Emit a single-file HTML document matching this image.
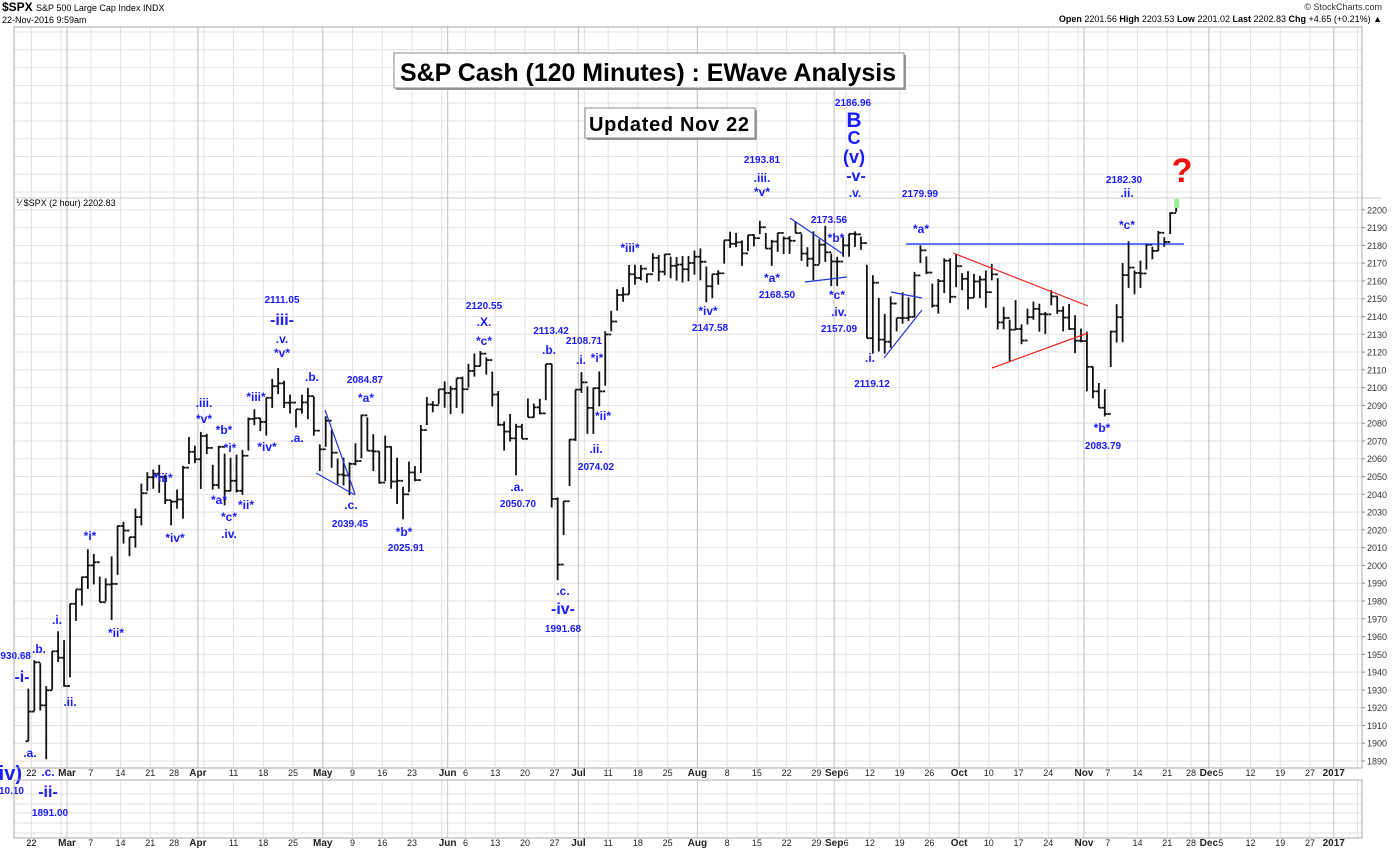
<!DOCTYPE html>
<html><head><meta charset="utf-8">
<style>
html,body{margin:0;padding:0;background:#fff;}
svg{display:block;font-family:"Liberation Sans",Arial,sans-serif;}
</style></head>
<body>
<svg id="chart" width="1400" height="852" viewBox="0 0 1400 852" xmlns="http://www.w3.org/2000/svg">
  <g id="grid"></g>
  <g id="bars"></g>
  <g id="lines"></g>
  <g id="ann"></g>
  <g id="axes"></g>
  <g>
    <text x="2" y="11" font-size="12" font-weight="bold">$SPX <tspan font-size="9" font-weight="normal">S&amp;P 500 Large Cap Index  INDX</tspan></text>
    <text x="2" y="23" font-size="9">22-Nov-2016 9:59am</text>
    <text x="1382" y="10" font-size="9" text-anchor="end" fill="#333">© StockCharts.com</text>
    <text x="1382" y="22" font-size="9" text-anchor="end"><tspan font-weight="bold">Open</tspan> 2201.56  <tspan font-weight="bold">High</tspan> 2203.53  <tspan font-weight="bold">Low</tspan> 2201.02  <tspan font-weight="bold">Last</tspan> 2202.83  <tspan font-weight="bold">Chg</tspan> +4.65 (+0.21%) ▲</text>
  </g>
  <g>
    <rect x="396" y="55" width="510" height="35" fill="#999"/>
    <rect x="394" y="53" width="510" height="35" fill="#fff" stroke="#888"/>
    <text x="400" y="81" font-size="25" font-weight="bold" textLength="496">S&amp;P Cash (120 Minutes) : EWave Analysis</text>
  </g>
  <g>
    <rect x="587" y="110" width="170" height="30" fill="#999"/>
    <rect x="585" y="108" width="170" height="30" fill="#fff" stroke="#888"/>
    <text x="589" y="131" font-size="20" font-weight="bold" textLength="160">Updated Nov 22</text>
  </g>
  <text x="16" y="206" font-size="9">⅟ $SPX (2 hour) 2202.83</text>
</svg>
<script>
// ---- data (daily OHLC, Feb 19 - Nov 22, 2016) ----
const closes = [1917.8,1945.5,1921.3,1929.8,1951.7,1948.1,1932.2,
1978.4,1986.5,1993.4,1999.99,2001.8,1979.3,1989.3,1989.6,2022.2,2019.6,2015.9,2027.2,2040.6,2049.6,2051.6,2049.8,2036.7,2035.9,2037.1,2055.0,2063.9,2059.7,
2072.8,2066.1,2045.2,2066.7,2041.9,2047.6,2041.99,2061.7,2082.4,2082.8,2080.7,2094.3,2100.8,2102.4,2091.5,2091.6,2087.8,2091.7,2095.2,2075.8,2065.3,
2081.4,2063.4,2051.1,2050.6,2057.1,2058.7,2084.4,2064.5,2064.1,2046.6,2066.7,2047.2,2047.6,2040.0,2052.3,2048.0,2076.1,2090.5,2090.1,2099.1,2096.95,
2099.3,2105.3,2099.1,2109.4,2112.1,2119.1,2115.5,2096.1,2079.1,2075.3,2071.5,2078.0,2071.2,2083.3,2088.9,2085.5,2113.3,2037.4,2000.5,2036.1,2070.8,2098.9,
2102.95,2088.6,2099.7,2097.9,2129.9,2137.2,2152.1,2152.4,2163.75,2161.7,2166.9,2163.8,2173.0,2165.2,2175.0,2168.5,2169.2,2166.6,2170.1,2173.6,
2170.8,2157.0,2163.8,2164.3,2182.9,2180.9,2181.7,2175.5,2185.8,2184.05,2190.2,2178.2,2182.2,2187.0,2183.9,2182.6,2186.9,2175.4,2172.5,2169.0,2180.4,2176.1,2170.95,
2170.9,2179.98,2186.5,2186.2,2181.3,2127.8,2159.0,2127.0,2125.8,2147.3,2139.2,2139.1,2139.8,2163.1,2177.2,2164.7,2146.1,2159.9,2171.4,2151.1,2168.3,
2161.2,2150.5,2159.7,2160.8,2153.7,2163.7,2136.7,2139.2,2132.6,2132.98,2126.5,2139.6,2144.3,2141.3,2141.2,2151.3,2143.2,2139.4,2133.0,2126.4,2126.2,
2111.7,2097.9,2088.7,2085.2,2131.5,2139.6,2163.3,2167.5,2164.5,2164.2,2180.4,2176.9,2187.1,2181.9,2198.2,2202.8];
const highs = [1930.7,1946.7,1945.0,1932.1,1951.8,1962.96,1958.0,
1978.6,1986.5,1993.7,2009.1,2006.5,1993.7,1992.7,2005.1,2022.4,2024.6,2015.9,2032.0,2046.0,2052.4,2053.9,2056.6,2051.0,2036.7,2042.7,2056.0,2072.2,2067.4,
2075.1,2074.0,2056.6,2067.3,2062.9,2060.6,2062.3,2065.0,2083.2,2087.8,2083.0,2094.3,2104.9,2111.05,2103.9,2096.1,2087.8,2096.0,2099.9,2094.9,2068.1,
2083.9,2076.4,2060.2,2060.6,2058.0,2068.7,2084.87,2083.3,2073.8,2064.2,2073.0,2067.0,2060.6,2044.2,2058.4,2055.9,2079.0,2094.7,2092.4,2099.1,2103.5,
2100.96,2105.3,2106.2,2113.4,2119.2,2120.55,2117.0,2109.0,2098.1,2081.0,2085.2,2079.6,2079.6,2093.9,2091.0,2093.7,2113.3,2113.42,2038.3,2036.1,2071.0,2098.9,
2108.71,2100.7,2100.0,2109.1,2131.7,2143.2,2155.4,2156.5,2168.99,2169.1,2168.99,2164.0,2175.6,2174.6,2175.1,2173.7,2173.5,2174.0,2174.0,2177.1,
2178.3,2168.1,2163.8,2166.0,2182.9,2187.7,2187.0,2182.8,2185.8,2186.3,2193.81,2187.0,2183.1,2187.0,2185.0,2185.2,2193.4,2186.3,2179.0,2187.9,2183.5,2191.0,2175.4,
2173.56,2184.9,2186.57,2187.9,2184.9,2169.1,2163.3,2150.5,2141.5,2151.3,2138.98,2153.6,2150.8,2165.1,2179.99,2173.8,2158.5,2161.1,2172.7,2172.7,2175.3,
2164.4,2165.5,2163.95,2162.9,2165.9,2169.6,2161.6,2145.4,2138.2,2149.2,2135.6,2144.4,2148.4,2147.2,2142.6,2154.8,2151.4,2145.7,2147.1,2140.7,2133.2,
2131.5,2111.8,2102.6,2099.1,2132.0,2146.9,2170.1,2182.30,2165.9,2171.4,2180.8,2179.2,2188.1,2184.6,2198.7,2203.5];
const lows = [1901.1,1918.0,1918.4,1891.0,1930.1,1945.7,1931.8,
1937.1,1968.8,1977.4,1986.8,1989.3,1979.3,1979.8,1969.3,1994.7,2012.3,2005.2,2010.0,2022.5,2041.8,2043.1,2040.8,2034.5,2022.5,2031.9,2026.3,2057.0,2057.5,
2043.0,2062.6,2042.6,2043.1,2033.8,2041.7,2041.0,2039.7,2064.6,2078.9,2075.6,2073.0,2088.6,2096.3,2088.5,2085.4,2077.5,2085.4,2082.3,2073.0,2053.1,
2066.7,2054.9,2045.8,2045.0,2039.45,2056.3,2060.2,2064.5,2053.1,2045.9,2047.4,2043.1,2034.5,2025.91,2041.2,2047.3,2052.0,2078.9,2086.1,2090.7,2088.7,
2085.1,2088.6,2085.4,2100.0,2106.2,2112.1,2107.3,2089.4,2078.5,2064.6,2069.7,2050.7,2071.2,2083.3,2083.1,2085.0,2092.9,2032.6,1991.68,2017.1,2044.6,2070.0,
2097.0,2074.02,2074.0,2089.4,2101.0,2131.7,2143.3,2148.3,2152.3,2157.9,2160.4,2159.0,2165.1,2159.8,2163.2,2161.5,2160.2,2159.1,2159.8,2163.5,
2160.4,2148.0,2150.3,2157.9,2169.7,2178.6,2179.0,2168.5,2176.8,2179.4,2186.3,2178.1,2168.50,2176.4,2175.1,2175.2,2186.8,2171.3,2168.0,2160.4,2169.6,2170.7,2157.09,
2157.09,2173.6,2173.6,2179.1,2177.5,2127.8,2119.12,2120.3,2119.12,2122.4,2131.6,2135.9,2137.4,2139.6,2170.0,2163.8,2145.0,2141.6,2153.2,2147.6,2156.5,
2154.8,2144.0,2150.5,2150.3,2144.9,2160.4,2132.7,2132.8,2114.7,2132.98,2124.4,2135.5,2138.2,2131.5,2130.1,2146.3,2141.5,2131.6,2132.5,2119.4,2125.5,
2097.9,2094.0,2088.6,2083.79,2111.6,2125.4,2125.5,2156.1,2152.5,2156.1,2166.4,2172.2,2176.8,2179.2,2186.4,2198.8];
const yTicks = [1890,1900,1910,1920,1930,1940,1950,1960,1970,1980,1990,2000,2010,2020,2030,2040,2050,2060,2070,2080,2090,2100,2110,2120,2130,2140,2150,2160,2170,2180,2190,2200];
const monthNames = ["Jan","Feb","Mar","Apr","May","Jun","Jul","Aug","Sep","Oct","Nov","Dec"];

// ---- geometry ----
const NS = "http://www.w3.org/2000/svg";
const PL = 14, PR = 1362, PT = 27, PB = 768, LT = 780, LB = 838;
const X0 = 25.4, PPD = 5.947;
function xOf(i){ return X0 + i*PPD; }
function yOf(v){ return 761 - (v-1890)*1.778; }
function mk(tag, attrs, parent){
  const e = document.createElementNS(NS, tag);
  for (const k in attrs) e.setAttribute(k, attrs[k]);
  parent.appendChild(e); return e;
}
// trading calendar
const holidays = ["2016-3-25","2016-5-30","2016-7-4","2016-9-5","2016-11-24","2016-12-26","2017-1-2"];
const days = [];
for (let d = new Date(2016,1,19); d <= new Date(2017,0,10); d.setDate(d.getDate()+1)){
  const wd = d.getDay();
  const key = d.getFullYear()+"-"+(d.getMonth()+1)+"-"+d.getDate();
  if (wd===0||wd===6||holidays.includes(key)) continue;
  days.push({y:d.getFullYear(), m:d.getMonth(), d:d.getDate(), wd:wd});
}
const grid = document.getElementById('grid');
const axes = document.getElementById('axes');
mk('rect',{x:PL,y:PT,width:PR-PL,height:PB-PT,fill:'#fff'},grid);
for (let v = 1890; yOf(v) > PT; v += 10){
  const l = mk('line',{x1:PL,x2:PR,y1:yOf(v),y2:yOf(v),stroke:'#e2e2e2','stroke-width':1},grid);
  
  
}
[794,804,813,823,833].forEach(y=>{ mk('line',{x1:PL,x2:PR,y1:y,y2:y,stroke:'#e2e2e2'},grid); });
// determine break types
const marks = [];
days.forEach((dd,i)=>{
  if (i===0) return;
  const prev = days[i-1];
  const newMonth = dd.m !== prev.m;
  const newWeek = dd.wd <= prev.wd || (dd.d - prev.d > 3 && !newMonth);
  if (newMonth || newWeek) marks.push({i, newMonth, dd});
});
const monthIdx = marks.filter(m=>m.newMonth).map(m=>m.i);
marks.forEach(mkk=>{
  const i = mkk.i, dd = mkk.dd, newMonth = mkk.newMonth;
  const x = xOf(i);
  if (x > PR-2) return;
  const line = mk('line',{x1:x,x2:x,y1:PT,y2:PB,stroke:newMonth?'#c8c8c8':'#e2e2e2','stroke-width':newMonth?1.2:1},grid);
  
  
  mk('line',{x1:x,x2:x,y1:LT,y2:LB,stroke:newMonth?'#c8c8c8':'#e2e2e2'},grid);
  let label, bold = false;
  if (newMonth){ label = dd.m===0 ? String(dd.y) : monthNames[dd.m]; bold = true; }
  else {
    if (monthIdx.some(mi => Math.abs(mi - i) < 2)) return;
    label = String(dd.d);
  }
  if (x > 1345) return;
  [776, 846].forEach(yy=>{
    const t = mk('text',{x:x,y:yy,'font-size':bold?10:9,'font-weight':bold?'bold':'normal','text-anchor':'middle',fill:'#222'},axes);
    t.textContent = label;
    
    
  });
});
[776,846].forEach(yy=>{
  const t = mk('text',{x:xOf(1),y:yy,'font-size':9,'text-anchor':'middle',fill:'#222'},axes);
  t.textContent = '22';
  
  
});
mk('line',{x1:xOf(1),x2:xOf(1),y1:PT,y2:PB,stroke:'#e2e2e2'},grid);
mk('rect',{x:PL,y:PT,width:PR-PL,height:PB-PT,fill:'none',stroke:'#aaa'},axes);
mk('line',{x1:PL,x2:1382,y1:198,y2:198,stroke:'#ccc'},axes);
mk('rect',{x:PL,y:LT,width:PR-PL,height:LB-LT,fill:'none',stroke:'#aaa'},axes);
yTicks.forEach(v=>{
  mk('line',{x1:PR,x2:PR+3,y1:yOf(v),y2:yOf(v),stroke:'#888'},axes);
  const t = mk('text',{x:PR+5,y:yOf(v)+3.5,'font-size':9,fill:'#333'},axes);
  t.textContent = v;
  
  
});
// price bars
const bars = document.getElementById('bars');
closes.forEach((c,i)=>{
  const cx = xOf(i) + PPD/2;
  const o = i>0 ? closes[i-1] : lows[i];
  const g = mk('g',{stroke:'#111','stroke-width':1.8},bars);
  
  
  mk('line',{x1:cx,x2:cx,y1:yOf(highs[i]),y2:yOf(lows[i])},g);
  mk('line',{x1:cx-2.8,x2:cx,y1:yOf(o),y2:yOf(o)},g);
  mk('line',{x1:cx,x2:cx+2.8,y1:yOf(c),y2:yOf(c)},g);
});
mk('rect',{x:xOf(closes.length-1)+1,y:199,width:5,height:9,fill:'#9e9'},bars);
const lines = document.getElementById('lines');
const tl = [
 [325,410,355,494,'#2233dd'],[316,473,355,495,'#2233dd'],
 [790,218,843,254,'#2233dd'],[805,282,847,277,'#2233dd'],
 [891,292,922,298,'#2233dd'],[884,358,922,310,'#2233dd'],
 [906,244,1184,244,'#1122ee'],
 [953,253,1088,306,'#ee2222'],[992,368,1088,333,'#ee2222']
];
tl.forEach(a=>{
  const l = mk('line',{x1:a[0],y1:a[1],x2:a[2],y2:a[3],stroke:a[4],'stroke-width':1.2},lines);
  
  
});
const ann = document.getElementById('ann');
const labels = [
 ["1930.68",31,659,10,'end'],["-i-",22,682,16],[".b.",39,653,12],[".a.",30,757,12],
 ["(iv)",22,780,20,'end'],["1810.10",24,794,10,'end'],[".c.",48,776,12],["-ii-",48,797,16],["1891.00",50,816,10],
 [".i.",57,624,12],[".ii.",70,706,12],["*i*",90,540,12],["*ii*",116,637,12],["*iii*",163,482,12],["*iv*",175,542,12],
 [".iii.",204,407,12],["*v*",204,423,12],["*b*",224,434,12],["*i*",230,452,12],["*a*",219,504,12],["*c*",229,521,12],[".iv.",229,538,12],
 ["*ii*",246,509,12],["*iii*",256,401,12],["*iv*",267,451,12],
 ["2111.05",282,303,10],["-iii-",282,325,16],[".v.",282,343,12],["*v*",282,357,12],
 [".b.",312,381,12],[".a.",297,442,12],[".c.",351,509,12],["2039.45",350,527,10],
 ["2084.87",365,383,10],["*a*",366,402,12],["*b*",404,536,12],["2025.91",406,551,10],
 ["2120.55",484,309,10],[".X.",484,326,12],["*c*",484,345,12],
 [".a.",517,491,12],["2050.70",518,507,10],["2113.42",551,334,10],[".b.",549,354,12],
 [".c.",563,595,12],["-iv-",563,614,16],["1991.68",563,632,10],
 ["2108.71",584,344,10],[".i.",581,364,12],["*i*",597,362,12],["*ii*",603,420,12],[".ii.",596,453,12],["2074.02",596,470,10],
 ["*iii*",630,252,12],["*iv*",708,315,12],["2147.58",710,331,10],
 ["2193.81",762,163,10],[".iii.",762,182,12],["*v*",762,196,12],
 ["*a*",772,282,12],["2168.50",777,298,10],["2173.56",829,223,10],["*b*",836,242,12],
 ["*c*",837,299,12],[".iv.",839,316,12],["2157.09",839,332,10],
 ["2186.96",853,106,10],["B",854,127,21],["C",854,144,18],["(v)",854,163,18],["-v-",856,181,16],[".v.",855,197,12],
 ["2179.99",920,197,10],["*a*",921,233,12],[".i.",870,362,12],["2119.12",872,387,10],
 ["2182.30",1124,183,10],[".ii.",1127,197,12],["*c*",1127,229,12],["*b*",1102,432,12],["2083.79",1103,449,10]
];
labels.forEach(a=>{
  const t = mk('text',{x:a[1],y:a[2],'font-size':a[3],'font-weight':'bold',fill:'#1a1aff','text-anchor':a[4]||'middle'},ann);
  t.textContent = a[0];
  
  
});
const q = mk('text',{x:1182,y:182,'font-size':34,'font-weight':'bold',fill:'#ee1111','text-anchor':'middle'},ann);
q.textContent = '?';


</script>
</body></html>
